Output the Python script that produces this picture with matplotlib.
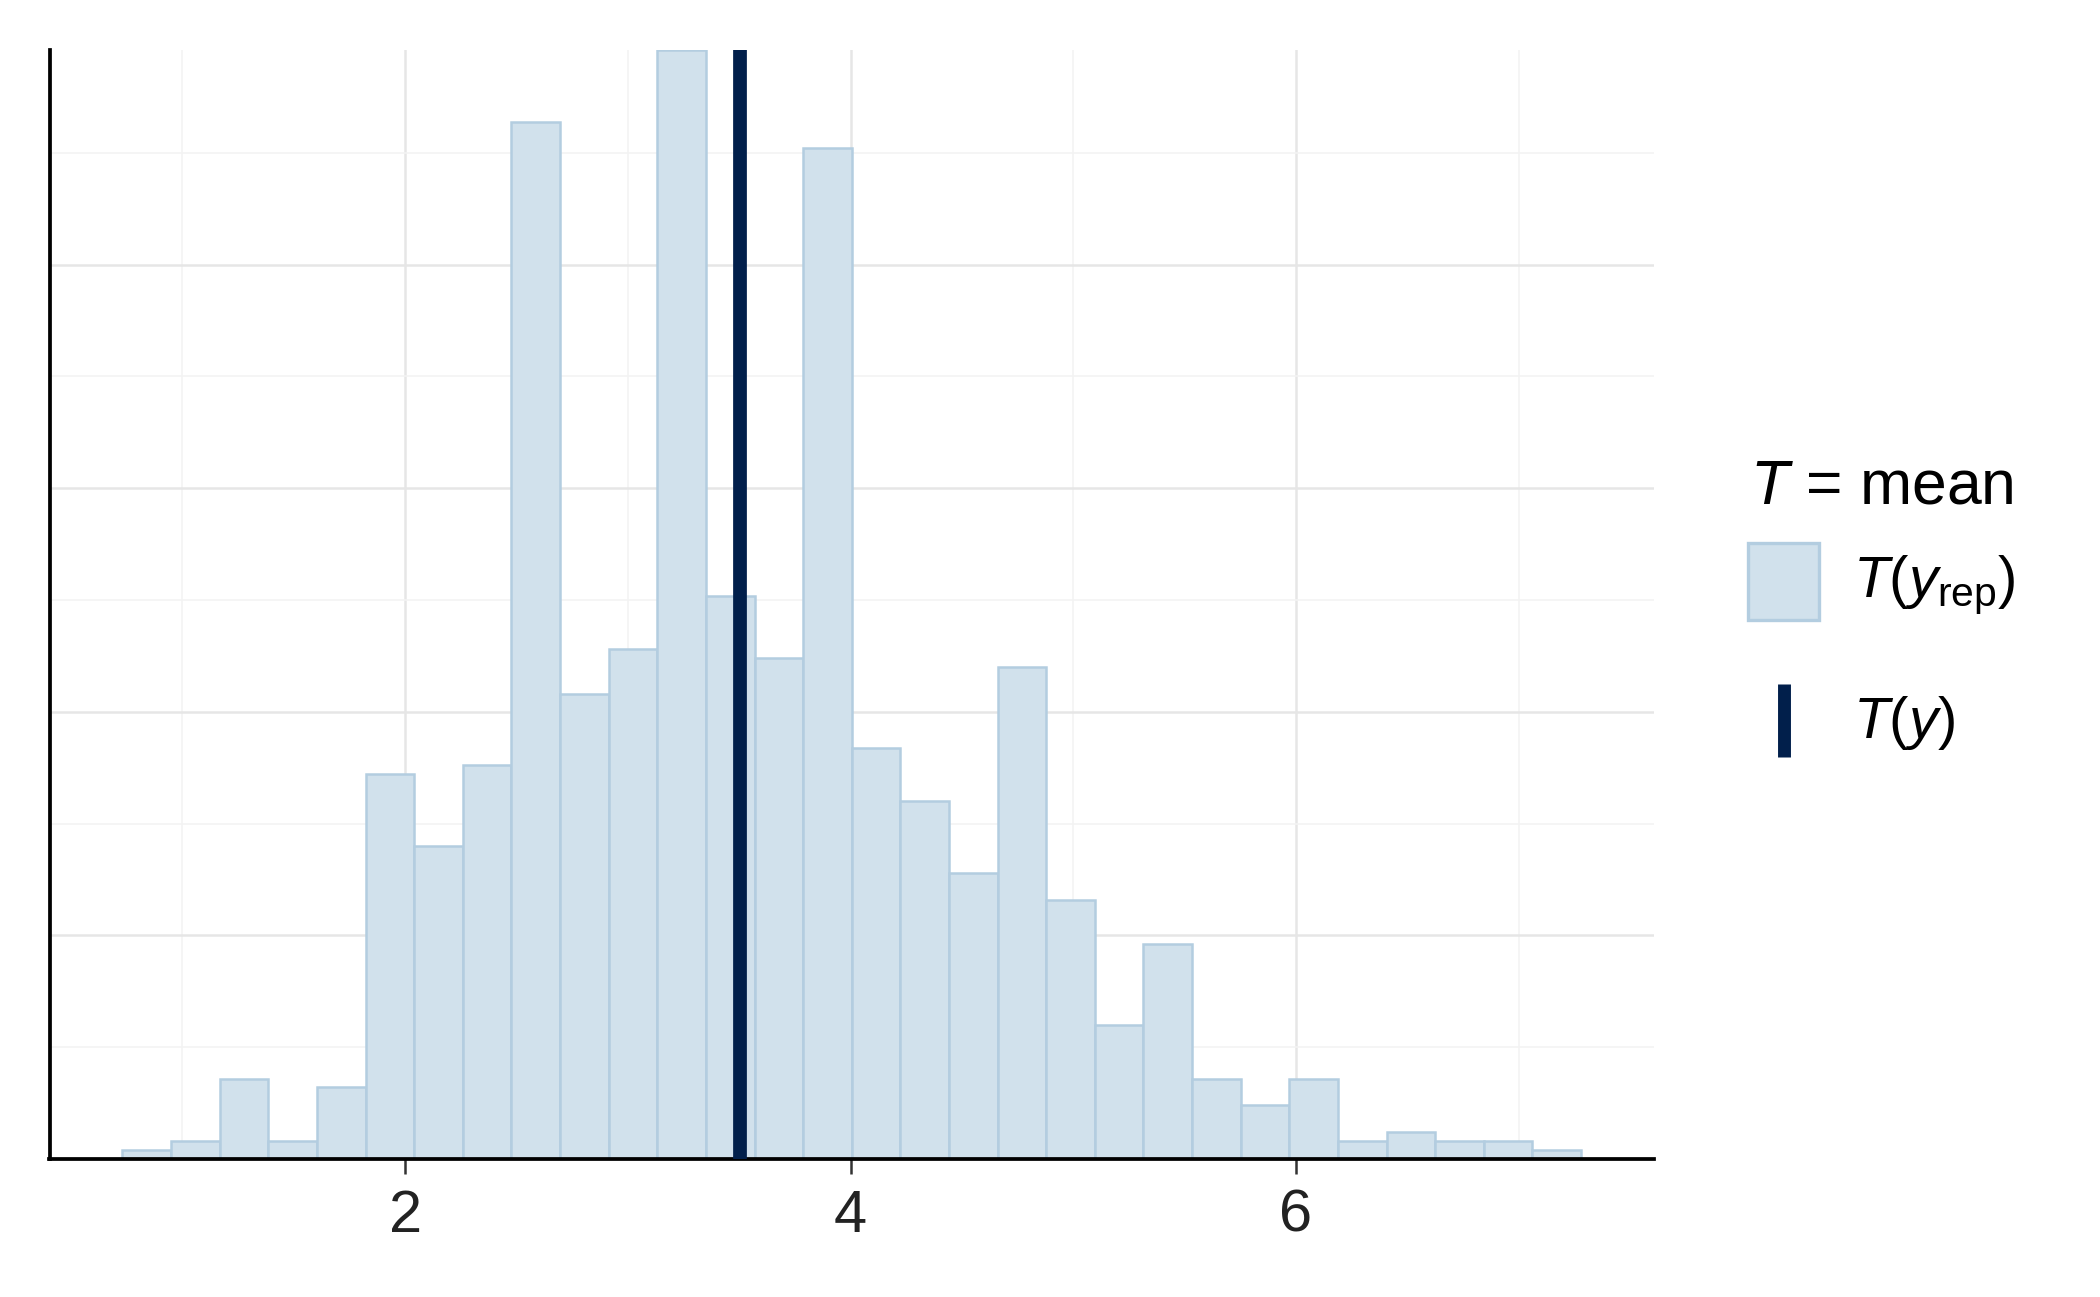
import numpy as np
import matplotlib
matplotlib.use("Agg")
import matplotlib.pyplot as plt
from matplotlib.patches import Rectangle
from matplotlib.lines import Line2D

# -------------------------------------------------
# data
# -------------------------------------------------
bin_start = 0.731
bin_width = 0.2183
counts = [1, 2, 9, 2, 8, 43, 35, 44, 116, 52, 57, 124, 63, 56, 113,
          46, 40, 32, 55, 29, 15, 24, 9, 6, 9, 2, 3, 2, 2, 1]
t_y = 3.506                      # observed statistic T(y)
x_major = [2, 4, 6]
x_minor = [1, 3, 5, 7]
y_major = [25, 50, 75, 100]
y_minor = [12.5, 37.5, 62.5, 87.5, 112.5]

fill_col = "#d1e1ec"
edge_col = "#b3cde0"
dark_col = "#011f4b"

plt.rcParams["font.family"] = ["Liberation Sans", "DejaVu Sans"]
plt.rcParams["mathtext.fontset"] = "custom"
plt.rcParams["mathtext.rm"] = "Liberation Sans"
plt.rcParams["mathtext.it"] = "Liberation Sans:italic"

fig = plt.figure(figsize=(7, 1297 / 300), dpi=300)
ax = fig.add_axes([49.5 / 2100, 1 - 1159 / 1297, (1654 - 49.5) / 2100, (1159 - 50) / 1297])

# -------------------------------------------------
# histogram bars + observed value line
# -------------------------------------------------
lefts = bin_start + bin_width * np.arange(len(counts))
ax.bar(lefts, counts, width=bin_width, align="edge",
       color=fill_col, edgecolor=edge_col, linewidth=0.6, zorder=2)
ax.axvline(t_y, color=dark_col, linewidth=3.3, zorder=3)

span = lefts[-1] + bin_width - bin_start
ax.set_xlim(bin_start - 0.05 * span, bin_start + 1.05 * span)
ax.set_ylim(0, max(counts))

# grid
ax.set_xticks(x_major)
ax.set_xticks(x_minor, minor=True)
ax.set_yticks(y_major)
ax.set_yticks(y_minor, minor=True)
ax.grid(True, which="major", color="#e6e6e6", linewidth=0.6, zorder=0)
ax.grid(True, which="minor", color="#f3f3f3", linewidth=0.4, zorder=0)
ax.set_axisbelow(True)

ax.tick_params(axis="x", which="major", length=3.6, width=0.6, color="#333333",
               labelsize=14.3, labelcolor="#222222", pad=3.5)
ax.tick_params(axis="x", which="minor", length=0)
ax.tick_params(axis="y", which="both", length=0, labelleft=False)

for side in ["top", "right"]:
    ax.spines[side].set_visible(False)
for side in ["left", "bottom"]:
    ax.spines[side].set_linewidth(0.9)
    ax.spines[side].set_color("black")

# -------------------------------------------------
# legend, drawn by hand in figure coordinates
# -------------------------------------------------
fig.text(1750 / 2100, 1 - 503 / 1297, r"$T$ = mean", fontsize=15,
         ha="left", va="baseline")
fig.add_artist(Rectangle((1748 / 2100, 1 - 620 / 1297), 71 / 2100, 77 / 1297,
                         transform=fig.transFigure, facecolor=fill_col,
                         edgecolor=edge_col, linewidth=0.8))
fig.text(1853 / 2100, 1 - 597 / 1297, r"$T(y_{\mathrm{rep}})$", fontsize=14,
         ha="left", va="baseline")
fig.add_artist(Line2D([1783.5 / 2100, 1783.5 / 2100], [1 - 684 / 1297, 1 - 757 / 1297],
                      transform=fig.transFigure, color=dark_col, linewidth=3.1,
                      solid_capstyle="butt"))
fig.text(1853 / 2100, 1 - 738 / 1297, r"$T(y)$", fontsize=14,
         ha="left", va="baseline")

fig.savefig("out.png", dpi=300)
